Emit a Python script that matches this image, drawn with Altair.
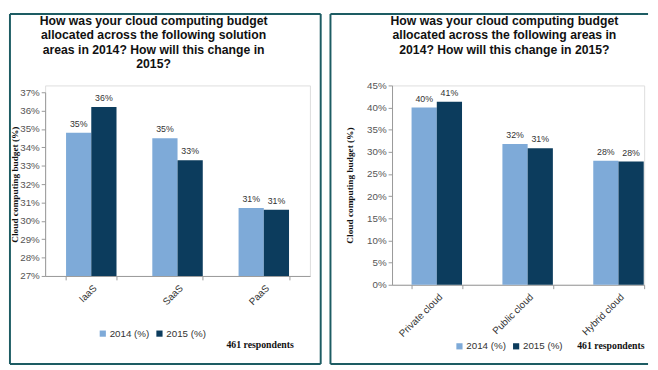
import altair as alt
import pandas as pd

series = ["2014 (%)", "2015 (%)"]
left_cats = ["IaaS", "SaaS", "PaaS"]
left_2014 = [34.8, 34.5, 30.7]
left_2015 = [36.2, 33.3, 30.6]
left_labels_2014 = ["35%", "35%", "31%"]
left_labels_2015 = ["36%", "33%", "31%"]

right_cats = ["Private cloud", "Public cloud", "Hybrid cloud"]
right_2014 = [40.0, 31.8, 28.0]
right_2015 = [41.3, 30.8, 27.8]
right_labels_2014 = ["40%", "32%", "28%"]
right_labels_2015 = ["41%", "31%", "28%"]

left_title = ["How was your cloud computing budget",
              "allocated across the following solution",
              "areas in 2014? How will this change in",
              "2015?"]
right_title = ["How was your cloud computing budget",
               "allocated across the following areas in",
               "2014? How will this change in 2015?"]
y_title = "Cloud computing budget (%)"
note = "461 respondents"

LIGHT = "#7eaad8"
DARK = "#0c3c5d"
FRAME = "#1d5c63"
SANS = "Liberation Sans"
SERIF = "Liberation Serif"


def table(cats, v14, v15, l14, l15):
    rows = []
    for c, a, b, la, lb in zip(cats, v14, v15, l14, l15):
        rows.append({"cat": c, "series": series[0], "value": a, "label": la})
        rows.append({"cat": c, "series": series[1], "value": b, "label": lb})
    return pd.DataFrame(rows)


def panel(df, cats, ymin, ymax, ystep, width, height, yrange, xscale,
          title, title_xy, frame_layers, legend_xy, note_xy, ytitle_x, ytitle_y):
    ticks = list(range(ymin, ymax + 1, ystep))
    x = alt.X("cat:N", sort=cats, title=None, scale=xscale,
              axis=alt.Axis(labelAngle=-45, labelFont=SANS, labelFontSize=10,
                            labelColor="#333", domainColor="#999",
                            tickColor="#999", tickBand="extent", tickSize=4,
                            labelPadding=3))
    y = alt.Y("value:Q", title=y_title,
              scale=alt.Scale(domain=[ymin, ymax], zero=False, nice=False,
                              range=yrange),
              axis=alt.Axis(values=ticks, labelExpr="datum.value + '%'",
                            grid=False, labelOverlap=False,
                            labelFont=SANS, labelFontSize=10,
                            labelColor="#555", domainColor="#999",
                            tickColor="#999", tickSize=4,
                            titleFont=SERIF, titleFontSize=9.5,
                            titleFontWeight="bold", titleColor="#111",
                            titleX=ytitle_x, titleY=ytitle_y,
                            titleAlign="center"))
    color = alt.Color("series:N", sort=series,
                      scale=alt.Scale(domain=series, range=[LIGHT, DARK]),
                      legend=alt.Legend(title=None, orient="none",
                                        direction="horizontal",
                                        legendX=legend_xy[0],
                                        legendY=legend_xy[1],
                                        symbolType="square", symbolSize=40,
                                        symbolStrokeWidth=0,
                                        labelFont=SANS, labelFontSize=10,
                                        labelColor="#333", columnPadding=5,
                                        symbolOffset=0, labelOffset=2))
    base = alt.Chart(df).encode(x=x, y=y,
                                xOffset=alt.XOffset("series:N", sort=series))
    bars = base.mark_bar().encode(y2=alt.datum(ymin), color=color)
    labels = base.mark_text(dy=-9, font=SANS, fontSize=9, color="#333").encode(
        text="label:N")
    one = pd.DataFrame({"k": [0]})
    ttl = alt.Chart(one).mark_text(
        text=title, font=SANS, fontSize=12.5, fontWeight="bold", color="#111",
        lineHeight=14.8, baseline="top", align="center").encode(
        x=alt.value(title_xy[0]), y=alt.value(title_xy[1]))
    nt = alt.Chart(one).mark_text(
        text=note, font=SERIF, fontSize=10, fontWeight="bold",
        color="#111").encode(x=alt.value(note_xy[0]), y=alt.value(note_xy[1]))
    frames = [alt.Chart(one).mark_rule(stroke=FRAME, strokeWidth=2).encode(
        x=alt.value(a), x2=alt.value(b), y=alt.value(c), y2=alt.value(d))
        for a, b, c, d in frame_layers]
    return alt.layer(*frames, bars, labels, ttl, nt).properties(
        width=width, height=height)


# left panel: plot origin at page (44, 82)
left = panel(
    table(left_cats, left_2014, left_2015, left_labels_2014, left_labels_2015),
    left_cats, 27, 37, 1, 271, 195, [195, 7],
    alt.Scale(paddingInner=0.415, paddingOuter=0.2425),
    left_title, (111, -72),
    [(-36, 282, -73, -73), (-36, 282, 285, 285),
     (-36, -36, -73, 285), (282, 282, -73, 285)],
    (54, 249), (220, 266), -26, 101)

# right panel: plot origin at page (395, 82)
right = panel(
    table(right_cats, right_2014, right_2015, right_labels_2014, right_labels_2015),
    right_cats, 0, 45, 5, 258, 204, [204, 0],
    alt.Scale(paddingInner=0.44, paddingOuter=0.1075, align=1),
    right_title, (115, -72),
    [(-63, 262, -73, -73), (-63, 262, 285, 285), (-63, -63, -73, 285)],
    (64, 262), (224, 267), -38, 102)

chart = alt.hconcat(left, right, spacing=6).resolve_scale(
    color="independent", x="independent", y="independent"
).resolve_legend(color="independent").properties(padding=0).configure_view(
    stroke=None).configure(background="white")

chart.save("out.html", embed_options={"renderer": "svg", "actions": False})
